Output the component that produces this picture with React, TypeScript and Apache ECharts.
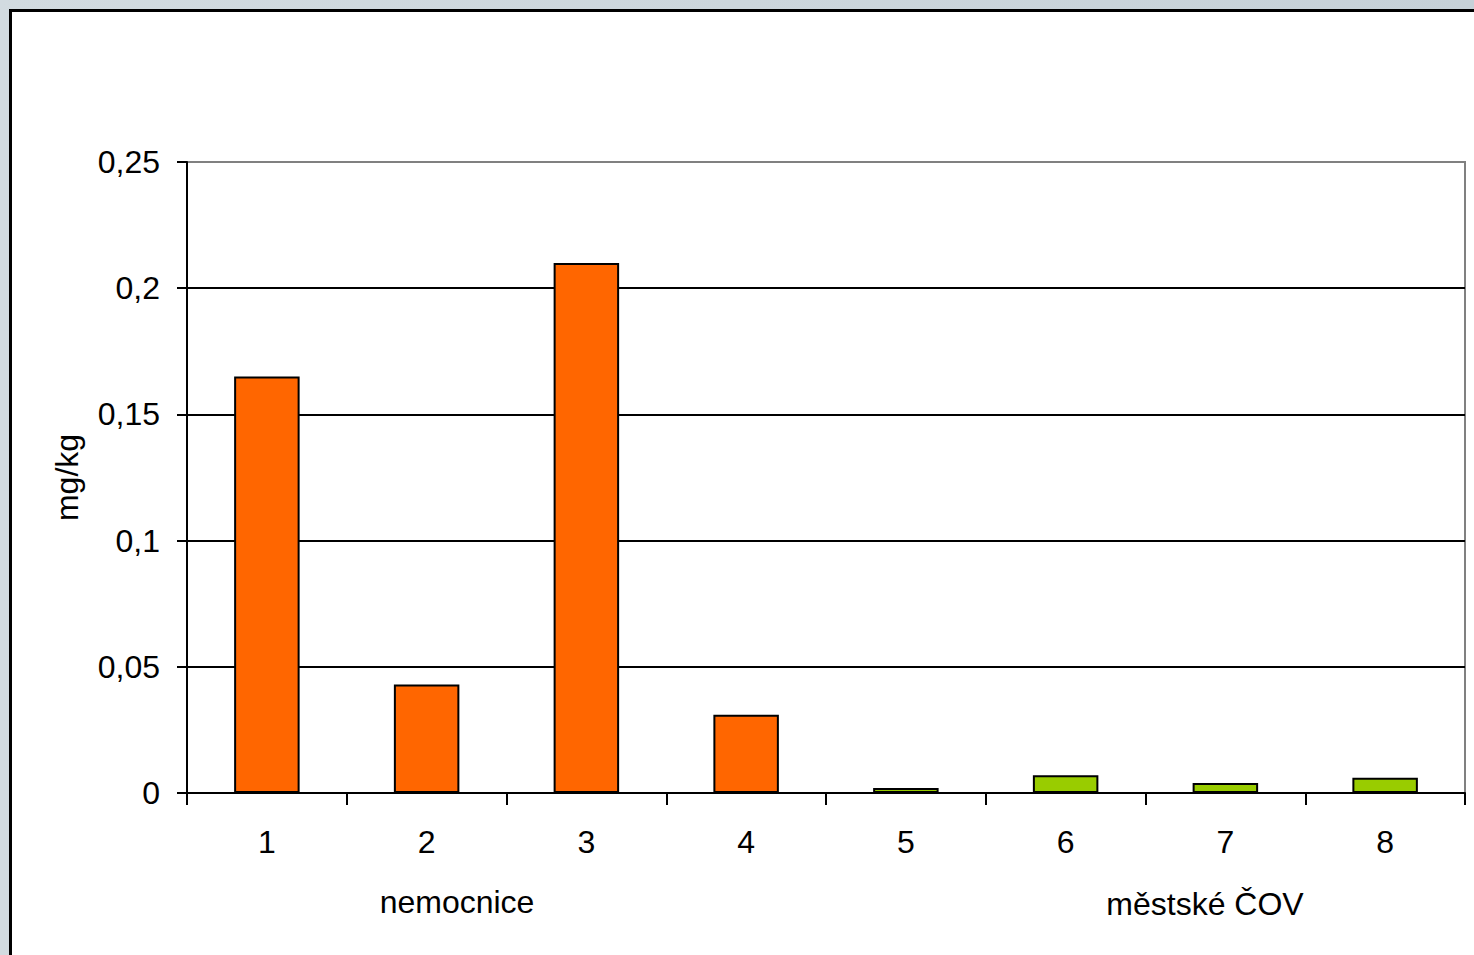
import React, { useEffect, useRef } from "react";
import * as echarts from "echarts";

// Sample sites and measured concentrations (mg/kg)
const categories = ["1", "2", "3", "4", "5", "6", "7", "8"];
const values = [0.165, 0.043, 0.21, 0.031, 0.002, 0.007, 0.004, 0.006];
// Site group per category: 0 = nemocnice, 1 = městské ČOV
const groupOf = [0, 0, 0, 0, 1, 1, 1, 1];
const groupNames = ["nemocnice", "městské ČOV"];
const groupColors = ["#FF6600", "#99CC00"];
const yTicks = [0, 0.05, 0.1, 0.15, 0.2, 0.25];
const axisTitle = "mg/kg";

const FONT = "'Liberation Sans', Arial, sans-serif";
const FS = 32;

export default function App() {
  const ref = useRef<HTMLDivElement>(null);

  useEffect(() => {
    if (!ref.current) return;
    const chart = echarts.init(ref.current, undefined, { renderer: "svg" });
    chart.setOption({
      animation: false,
      textStyle: { fontFamily: FONT },
      grid: {
        left: 187,
        top: 162,
        right: 9,
        bottom: 162,
        show: true,
        borderColor: "#808080",
        borderWidth: 2,
        backgroundColor: "transparent",
      },
      xAxis: {
        type: "category",
        data: categories,
        boundaryGap: true,
        axisLine: { show: true, lineStyle: { color: "#000", width: 2 } },
        axisTick: { show: true, length: 12, alignWithLabel: false, lineStyle: { color: "#000", width: 2 } },
        axisLabel: { color: "#000", fontSize: FS, fontFamily: FONT, margin: 33 },
        splitLine: { show: false },
      },
      yAxis: {
        type: "value",
        min: yTicks[0],
        max: yTicks[yTicks.length - 1],
        interval: 0.05,
        name: axisTitle,
        nameLocation: "middle",
        nameRotate: 90,
        nameGap: 104,
        nameTextStyle: { color: "#000", fontSize: FS, fontFamily: FONT },
        axisLine: { show: true, lineStyle: { color: "#000", width: 2 } },
        axisTick: { show: true, length: 10, lineStyle: { color: "#000", width: 2 } },
        axisLabel: {
          color: "#000",
          fontSize: FS,
          fontFamily: FONT,
          margin: 27,
          formatter: (v: number) => (v === 0 ? "0" : String(+v.toFixed(2)).replace(".", ",")),
        },
        splitLine: {
          show: true,
          lineStyle: {
            color: ["#000", "#000", "#000", "#000", "#000", "#808080"],
            width: 2,
          },
        },
      },
      series: [
        {
          type: "bar",
          barWidth: "41%",
          data: values.map((v, i) => ({
            value: v,
            itemStyle: {
              color: groupColors[groupOf[i]],
              borderColor: "#000",
              borderWidth: 2,
            },
          })),
        },
      ],
      graphic: [
        {
          type: "text",
          x: 457,
          y: 902,
          style: {
            text: groupNames[0],
            fill: "#000",
            font: `${FS}px ${FONT}`,
            textAlign: "center",
            textVerticalAlign: "middle",
          },
        },
        {
          type: "text",
          x: 1205,
          y: 904,
          style: {
            text: groupNames[1],
            fill: "#000",
            font: `${FS}px ${FONT}`,
            textAlign: "center",
            textVerticalAlign: "middle",
          },
        },
      ],
    });
    return () => chart.dispose();
  }, []);

  return (
    <div
      style={{
        position: "absolute",
        left: 0,
        top: 0,
        width: 1474,
        height: 955,
        overflow: "hidden",
        background: "linear-gradient(90deg, #d2dbe0 0%, #c6d1d8 100%)",
      }}
    >
      <div
        style={{
          position: "absolute",
          left: 9,
          top: 9,
          width: 1480,
          height: 960,
          boxSizing: "border-box",
          border: "3px solid #000",
          background: "#fff",
        }}
      />
      <div
        ref={ref}
        style={{ position: "absolute", left: 0, top: 0, width: 1474, height: 955 }}
      />
    </div>
  );
}
